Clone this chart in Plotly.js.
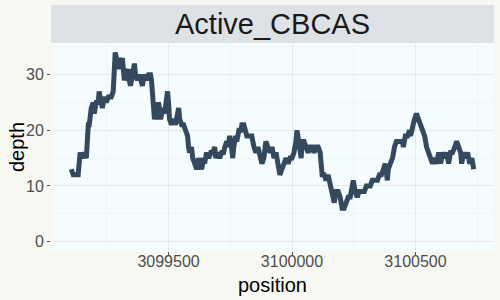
<!DOCTYPE html>
<html>
<head>
<meta charset="utf-8">
<script src="https://cdn.plot.ly/plotly-3.0.1.min.js"></script>
<style>html,body{margin:0;padding:0;background:#f8f8f3;}</style>
</head>
<body>
<div id="chart" style="width:500px;height:300px;"></div>
<script>
const panelTitle = "Active_CBCAS";
const xTitle = "position";
const yTitle = "depth";

const position = [
3099106,3099114,3099134,3099138,3099142,3099150,3099159,3099167,3099171,3099175,
3099179,3099183,3099187,3099195,3099199,3099207,3099215,3099219,3099228,3099232,
3099240,3099248,3099256,3099268,3099276,3099280,3099284,3099289,3099297,3099301,
3099309,3099313,3099317,3099321,3099329,3099337,3099341,3099346,3099354,3099362,
3099366,3099374,3099382,3099390,3099394,3099402,3099411,3099419,3099427,3099431,
3099435,3099439,3099443,3099447,3099451,3099455,3099459,3099463,3099468,3099472,
3099480,3099484,3099488,3099496,3099500,3099504,3099512,3099520,3099528,3099537,
3099541,3099545,3099553,3099561,3099569,3099577,3099581,3099585,3099593,3099598,
3099606,3099614,3099622,3099630,3099634,3099642,3099646,3099654,3099663,3099671,
3099679,3099687,3099691,3099699,3099707,3099715,3099723,3099728,3099736,3099740,
3099748,3099752,3099760,3099764,3099772,3099776,3099785,3099793,3099797,3099805,
3099809,3099817,3099829,3099837,3099846,3099854,3099862,3099870,3099878,3099886,
3099894,3099902,3099911,3099919,3099927,3099935,3099943,3099951,3099959,3099967,
3099976,3099984,3099992,3100000,3100008,3100016,3100020,3100024,3100033,3100037,
3100041,3100049,3100057,3100065,3100073,3100081,3100089,3100098,3100106,3100114,
3100118,3100122,3100130,3100138,3100146,3100154,3100163,3100171,3100179,3100187,
3100195,3100203,3100211,3100220,3100228,3100236,3100244,3100248,3100256,3100264,
3100272,3100281,3100293,3100301,3100309,3100317,3100325,3100337,3100346,3100354,
3100362,3100370,3100378,3100386,3100390,3100398,3100407,3100415,3100423,3100431,
3100439,3100447,3100451,3100459,3100468,3100476,3100480,3100488,3100496,3100504,
3100512,3100520,3100529,3100537,3100545,3100553,3100561,3100569,3100577,3100585,
3100594,3100602,3100610,3100618,3100626,3100634,3100642,3100650,3100659,3100667,
3100675,3100683,3100687,3100695,3100703,3100711,3100720,3100728,3100736
];
const depth = [
13,12,12,14,16,15,16,15,19,21,
21,23,24,25,23,25,25,27,25,24,
26,25,26,26,27,32,34,33,31,33,
32,33,31,29,30,31,29,28,30,32,
30,29,30,29,28,30,29,30,30,29,
27,24,22,23,22,24,25,24,22,23,
24,23,24,27,25,22,21,22,21,23,
24,22,21,21,20,19,17,16,17,15,
14,13,15,14,13,15,14,16,15,16,
16,17,15,16,15,16,16,17,18,17,
19,18,15,17,19,18,20,20,21,21,
20,19,19,19,17,16,17,15,14,15,
18,17,16,17,15,16,14,12,13,14,
15,14,15,15,16,18,20,19,17,15,
18,18,17,16,17,17,16,17,17,16,
14,12,12,11,12,10,8,7,9,9,
8,6,6,7,8,8,10,11,9,8,
9,9,9,10,10,10,11,11,11,12,
12,13,14,11,13,14,15,17,18,18,
18,18,17,19,19,20,19,21,22,23,
22,21,20,19,17,16,15,14,15,14,
16,14,16,15,16,14,16,16,17,18,
17,16,14,16,15,16,14,15,13
];

const xTicks = [3099500, 3100000, 3100500];
const yTicks = [0, 10, 20, 30];

const trace = {
  x: position, y: depth, type: 'scatter', mode: 'lines',
  line: {color: '#34495e', width: 5, shape: 'linear'},
  hoverinfo: 'skip'
};

const font = 'Liberation Sans, Arial, sans-serif';
const plotH = 208, plotW = 443;
const stripH = 38 / plotH;

const layout = {
  width: 500, height: 300,
  margin: {l: 51, r: 6, t: 43, b: 49, pad: 0},
  paper_bgcolor: '#f8f8f3',
  plot_bgcolor: '#f4fcfe',
  showlegend: false,
  font: {family: font, color: '#4d4d4d'},
  xaxis: {
    range: [3099024, 3100818],
    tickvals: xTicks, ticktext: xTicks.map(String),
    tickfont: {size: 16, color: '#4d4d4d'},
    ticks: 'outside', ticklen: 3, tickcolor: '#4d4d4d', tickwidth: 1,
    ticklabelstandoff: -7,
    showgrid: true, gridcolor: '#e2e8ec', gridwidth: 1,
    minor: {dtick: 250, tick0: 3099250, showgrid: true, gridcolor: '#ebf1f4', gridwidth: 0.6, ticks: ''},
    zeroline: false, showline: false
  },
  yaxis: {
    range: [-1.7, 35.7],
    tickvals: yTicks, ticktext: yTicks.map(String),
    tickfont: {size: 16, color: '#4d4d4d'},
    ticks: 'outside', ticklen: 3, tickcolor: '#4d4d4d', tickwidth: 1,
    showgrid: true, gridcolor: '#e2e8ec', gridwidth: 1,
    minor: {dtick: 5, tick0: 5, showgrid: true, gridcolor: '#ebf1f4', gridwidth: 0.6, ticks: ''},
    zeroline: false, showline: false
  },
  shapes: [{
    type: 'rect', xref: 'paper', yref: 'paper',
    x0: 0, x1: 1, y0: 1, y1: 1 + stripH,
    fillcolor: '#dee2e7', line: {width: 0}, layer: 'below'
  }],
  annotations: [{
    text: panelTitle, xref: 'paper', yref: 'paper',
    x: 0.5, y: 1 + stripH / 2, xanchor: 'center', yanchor: 'middle',
    showarrow: false, font: {size: 29, color: '#1a1a1a', family: font}
  }, {
    text: xTitle, xref: 'paper', yref: 'paper',
    x: 0.5, y: -(285 - 251) / plotH, xanchor: 'center', yanchor: 'middle',
    showarrow: false, font: {size: 20, color: '#000000', family: font}
  }, {
    text: yTitle, xref: 'paper', yref: 'paper', textangle: -90,
    x: -(51 - 17) / plotW, y: 0.5, xanchor: 'center', yanchor: 'middle',
    showarrow: false, font: {size: 20, color: '#000000', family: font}
  }]
};

Plotly.newPlot('chart', [trace], layout, {staticPlot: true, displayModeBar: false});
</script>
</body>
</html>
